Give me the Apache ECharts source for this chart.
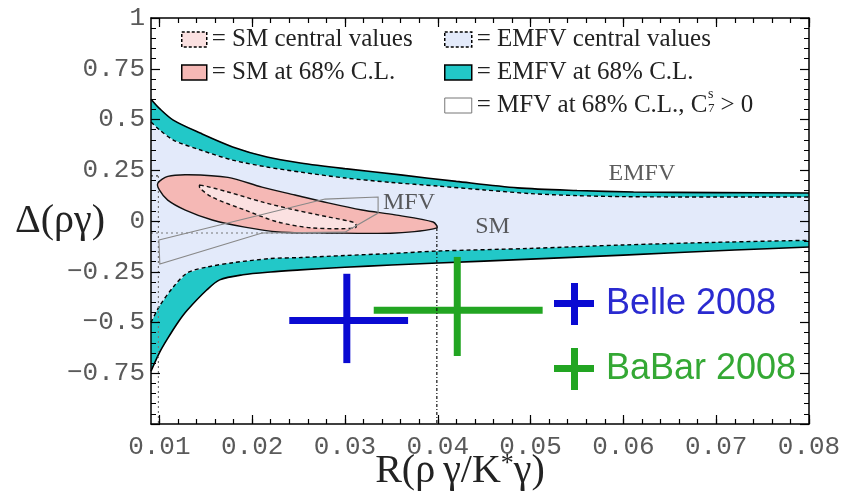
<!DOCTYPE html>
<html>
<head>
<meta charset="utf-8">
<script src="https://cdn.jsdelivr.net/npm/echarts@6/dist/echarts.min.js"></script>
<style>
  html, body { margin: 0; padding: 0; background: #fff; }
  #chart { width: 844px; height: 500px; }
</style>
</head>
<body>
<div id="chart"></div>
<script>
// axis ranges and ticks
const xMin = 0.0091
const xMax = 0.08
const xTicks = [0.01, 0.02, 0.03, 0.04, 0.05, 0.06, 0.07, 0.08]
const xMinorStep = 0.002

// EMFV bands (upper / lower edges of the 68% C.L. and central regions)
const emfvUpperOuter = [[0.0091, 0.60], [0.0100, 0.555], [0.0115, 0.497], [0.0144, 0.433], [0.0179, 0.365], [0.0216, 0.315], [0.0252, 0.286], [0.030, 0.258], [0.036, 0.227], [0.042, 0.195], [0.0486, 0.163], [0.055, 0.150], [0.0611, 0.143], [0.070, 0.140], [0.080, 0.138]]
const emfvUpperInner = [[0.0091, 0.488], [0.0100, 0.45], [0.0115, 0.399], [0.0144, 0.350], [0.0179, 0.300], [0.0216, 0.266], [0.0252, 0.241], [0.030, 0.212], [0.035, 0.19], [0.040, 0.172], [0.045, 0.153], [0.050, 0.135], [0.055, 0.125], [0.060, 0.12], [0.070, 0.118], [0.080, 0.118]]
const emfvLowerInner = [[0.0091, -0.50], [0.0100, -0.42], [0.0115, -0.325], [0.0130, -0.256], [0.0151, -0.227], [0.0180, -0.205], [0.022, -0.185], [0.0252, -0.18], [0.030, -0.17], [0.035, -0.16], [0.040, -0.148], [0.050, -0.135], [0.060, -0.118], [0.070, -0.105], [0.080, -0.095]]
const emfvLowerOuter = [[0.0091, -0.74], [0.0100, -0.65], [0.0108, -0.586], [0.0120, -0.50], [0.0130, -0.44], [0.0151, -0.34], [0.0165, -0.29], [0.019, -0.265], [0.022, -0.251], [0.0252, -0.241], [0.030, -0.228], [0.035, -0.217], [0.040, -0.207], [0.050, -0.188], [0.060, -0.168], [0.072, -0.143], [0.080, -0.128]]

// SM regions
const smOutline = [[0.00984, 0.187], [0.01092, 0.220], [0.01307, 0.228], [0.01739, 0.215], [0.02106, 0.167], [0.02462, 0.128], [0.02818, 0.089], [0.03184, 0.054], [0.0354, 0.030], [0.0395, -0.005], [0.0399, -0.034], [0.0354, -0.059], [0.0282, -0.059], [0.0228, -0.054], [0.0192, -0.030], [0.0157, 0.005], [0.0128, 0.054], [0.0109, 0.103], [0.0100, 0.153]]
const smCentral = [[0.01437, 0.177], [0.01739, 0.143], [0.02106, 0.094], [0.02462, 0.054], [0.02818, 0.020], [0.03109, -0.010], [0.03109, -0.034], [0.02645, -0.034], [0.02278, -0.005], [0.01922, 0.054], [0.01566, 0.118], [0.01437, 0.163]]

// MFV region outline
const mfvOutline = [[0.00995, -0.094], [0.02785, 0.108], [0.03357, 0.118], [0.03357, 0.039], [0.0300, -0.055], [0.02106, -0.059], [0.01005, -0.212], [0.00995, -0.094]]

// SM extremes (guide lines)
const smXLo = 0.0099
const smXHi = 0.0399
const smYHi = 0.222
const smYLo = -0.059

// measurements: [x, xLo, xHi, y, yLo, yHi]
const belle = [0.0302, 0.0240, 0.0368, -0.49, -0.70, -0.26]
const babar = [0.0421, 0.0331, 0.0513, -0.44, -0.665, -0.177]

// text labels inside the plot
const regionLabels = [['EMFV', 0.0620, 0.232], ['MFV', 0.0369, 0.089], ['SM', 0.0459, -0.030]]

const chart = echarts.init(document.getElementById('chart'))

const xMinor = []
for (let v = 0.01; v < 0.0801; v += xMinorStep) xMinor.push(+v.toFixed(4))

function areaSeries(name, pts, fill, stroke, dash, width, smooth, z) {
  return {
    type: 'custom', name, z, silent: true,
    data: [[xMin, 0]],
    itemStyle: { color: fill },
    renderItem: (params, api) => ({
      type: 'polygon',
      shape: { points: pts.map(p => api.coord(p)), smooth: smooth },
      style: { fill: fill, stroke: stroke || 'none', lineWidth: width, lineDash: dash }
    })
  }
}

function edgeLine(pts, dashed, z) {
  return {
    type: 'line', data: pts, smooth: 0.3, symbol: 'none', silent: true, z,
    lineStyle: { color: '#000', width: dashed ? 1.4 : 1.6, type: dashed ? [4, 3] : 'solid' }
  }
}

function guide(pts, color, dash, z) {
  return {
    type: 'line', data: pts, symbol: 'none', silent: true, z,
    lineStyle: { color: color, width: 1.2, type: dash }
  }
}

function crossSeries(name, m, color) {
  return {
    type: 'custom', name, z: 8, silent: true,
    itemStyle: { color },
    data: [m],
    renderItem: (params, api) => {
      const c = api.coord([api.value(0), api.value(3)])
      const l = api.coord([api.value(1), api.value(3)])
      const r = api.coord([api.value(2), api.value(3)])
      const b = api.coord([api.value(0), api.value(4)])
      const t = api.coord([api.value(0), api.value(5)])
      const st = { stroke: color, lineWidth: 7 }
      return {
        type: 'group',
        children: [
          { type: 'line', shape: { x1: l[0], y1: l[1], x2: r[0], y2: r[1] }, style: st },
          { type: 'line', shape: { x1: c[0], y1: b[1], x2: c[0], y2: t[1] }, style: st }
        ]
      }
    }
  }
}

const monoLabel = { fontFamily: 'Liberation Mono', fontSize: 26, color: '#5a5a5a' }
const frameLine = { show: true, onZero: false, lineStyle: { color: '#000', width: 1.5 } }

function xAxisDef(position, major) {
  return {
    type: 'value', position, min: xMin, max: xMax, z: 10,
    axisLine: major ? frameLine : { show: false, onZero: false },
    splitLine: { show: false },
    axisTick: { show: true, inside: true, length: major ? 9 : 5, customValues: major ? xTicks : xMinor, lineStyle: { color: '#000', width: 1.2 } },
    axisLabel: (major && position === 'bottom')
      ? Object.assign({ customValues: xTicks, margin: 10, formatter: v => v.toFixed(2) }, monoLabel)
      : { show: false }
  }
}

function yAxisDef(position) {
  return {
    type: 'value', position, min: -1, max: 1, interval: 0.25, z: 10,
    axisLine: frameLine,
    splitLine: { show: false },
    axisTick: { show: true, inside: true, length: 9, lineStyle: { color: '#000', width: 1.2 } },
    minorTick: { show: true, splitNumber: 5, length: 5, lineStyle: { color: '#000', width: 1 } },
    axisLabel: position === 'left'
      ? Object.assign({ margin: 6, formatter: v => v === -1 ? '' : String(v).replace('-', '\u2212') }, monoLabel)
      : { show: false }
  }
}

const legendText = { fontFamily: 'Liberation Serif', fontSize: 25, color: '#222', lineHeight: 24 }

const option = {
  animation: false,
  grid: { left: 151, right: 35, top: 18, bottom: 76, outerBoundsMode: 'none', containLabel: false },
  xAxis: [
    Object.assign(xAxisDef('bottom', true), {
      name: 'R(ρ\u2009γ/K{sup|*}γ)', nameLocation: 'middle', nameGap: 27, nameMoveOverlap: false,
      nameTextStyle: { fontFamily: 'Liberation Serif', fontSize: 40, color: '#222', verticalAlign: 'top', padding: [0, 40, 0, 0],
        rich: { sup: { fontFamily: 'Liberation Serif', fontSize: 26, verticalAlign: 'top', color: '#222' } } }
    }),
    xAxisDef('bottom', false),
    xAxisDef('top', true),
    xAxisDef('top', false)
  ],
  yAxis: [
    Object.assign(yAxisDef('left'), {
      name: 'Δ(ργ)', nameLocation: 'middle', nameRotate: 0, nameGap: 46, nameMoveOverlap: false,
      nameTextStyle: { fontFamily: 'Liberation Serif', fontSize: 40, color: '#222' }
    }),
    yAxisDef('right')
  ],
  legend: [
    {
      left: 181, top: 27, orient: 'vertical', padding: 0, itemGap: 8,
      itemWidth: 25, itemHeight: 15, icon: 'rect', selectedMode: false,
      textStyle: legendText, formatter: n => '= ' + n,
      data: [
        { name: 'SM central values', itemStyle: { color: '#fbe1e1', borderColor: '#000', borderWidth: 1.5, borderType: [3, 2] } },
        { name: 'SM at 68% C.L.', itemStyle: { color: '#f5b8b5', borderColor: '#000', borderWidth: 1.5 } }
      ]
    },
    {
      left: 444, top: 27, orient: 'vertical', padding: 0, itemGap: 8,
      itemWidth: 27, itemHeight: 15, icon: 'rect', selectedMode: false,
      textStyle: Object.assign({ rich: { sp: { width: 13, lineHeight: 24 } } }, legendText),
      formatter: n => n === 'MFV at 68% C.L.' ? '= MFV at 68% C.L., C{sp| }> 0' : '= ' + n,
      data: [
        { name: 'EMFV central values', itemStyle: { color: '#e3eafa', borderColor: '#000', borderWidth: 1.5, borderType: [3, 2] } },
        { name: 'EMFV at 68% C.L.', itemStyle: { color: '#22c8c8', borderColor: '#000', borderWidth: 1.5 } },
        { name: 'MFV at 68% C.L.', itemStyle: { color: '#fff', borderColor: '#777', borderWidth: 1 } }
      ]
    },
    {
      left: 554, top: 283, orient: 'vertical', padding: 0, itemGap: 23,
      itemWidth: 40, itemHeight: 42, selectedMode: false,
      icon: 'path://M0,17H40V24H0Z M17,0H24V42H17Z',
      textStyle: { fontFamily: 'Liberation Sans', fontSize: 36, lineHeight: 42, padding: [0, 0, 0, 7] },
      data: [
        { name: 'Belle 2008', textStyle: { color: '#2a2ad0' } },
        { name: 'BaBar 2008', textStyle: { color: '#34a834' } }
      ]
    }
  ],
  graphic: [
    { type: 'text', left: 708, top: 87, z: 20, style: { text: 's', font: '14px "Liberation Serif"', fill: '#222' } },
    { type: 'text', left: 708, top: 102, z: 20, style: { text: '7', font: '13px "Liberation Serif"', fill: '#222' } }
  ],
  series: [
    areaSeries('EMFV central values', emfvUpperInner.concat(emfvLowerInner.slice().reverse()), '#e3eafa', null, null, 0, 0, 1),
    areaSeries('EMFV at 68% C.L.', emfvUpperOuter.concat(emfvUpperInner.slice().reverse()), '#22c8c8', null, null, 0, 0, 1),
    areaSeries('EMFV lower band', emfvLowerInner.concat(emfvLowerOuter.slice().reverse()), '#22c8c8', null, null, 0, 0, 1),
    edgeLine(emfvUpperOuter, false, 2),
    edgeLine(emfvLowerOuter, false, 2),
    edgeLine(emfvUpperInner, true, 2),
    edgeLine(emfvLowerInner, true, 2),
    guide([[smXLo, smYHi], [smXLo, -1]], '#777', [2, 3], 3),
    guide([[xMin, smYHi], [smXLo, smYHi]], '#333', [2, 3], 3),
    guide([[xMin, smYLo], [0.030, smYLo]], '#777', [2, 3], 3),
    areaSeries('SM at 68% C.L.', smOutline, '#f5b8b5', '#111', null, 1.4, 0.3, 4),
    areaSeries('SM central values', smCentral, '#fbe1e1', '#111', [4, 3], 1.4, 0.3, 5),
    areaSeries('MFV at 68% C.L.', mfvOutline, 'none', '#888', null, 1.1, 0, 6),
    {
      type: 'scatter', symbolSize: 0, z: 7, silent: true,
      data: regionLabels.map(d => ({ name: d[0], value: [d[1], d[2]] })),
      label: { show: true, position: 'inside', formatter: '{b}', fontFamily: 'Liberation Serif', fontSize: 24, color: '#333' }
    },
    crossSeries('Belle 2008', belle, '#0a0ad2'),
    crossSeries('BaBar 2008', babar, '#22a522'),
    guide([[smXHi, -0.034], [smXHi, -1]], '#111', [3, 2, 1, 2], 9)
  ]
}

chart.setOption(option)
</script>
</body>
</html>
